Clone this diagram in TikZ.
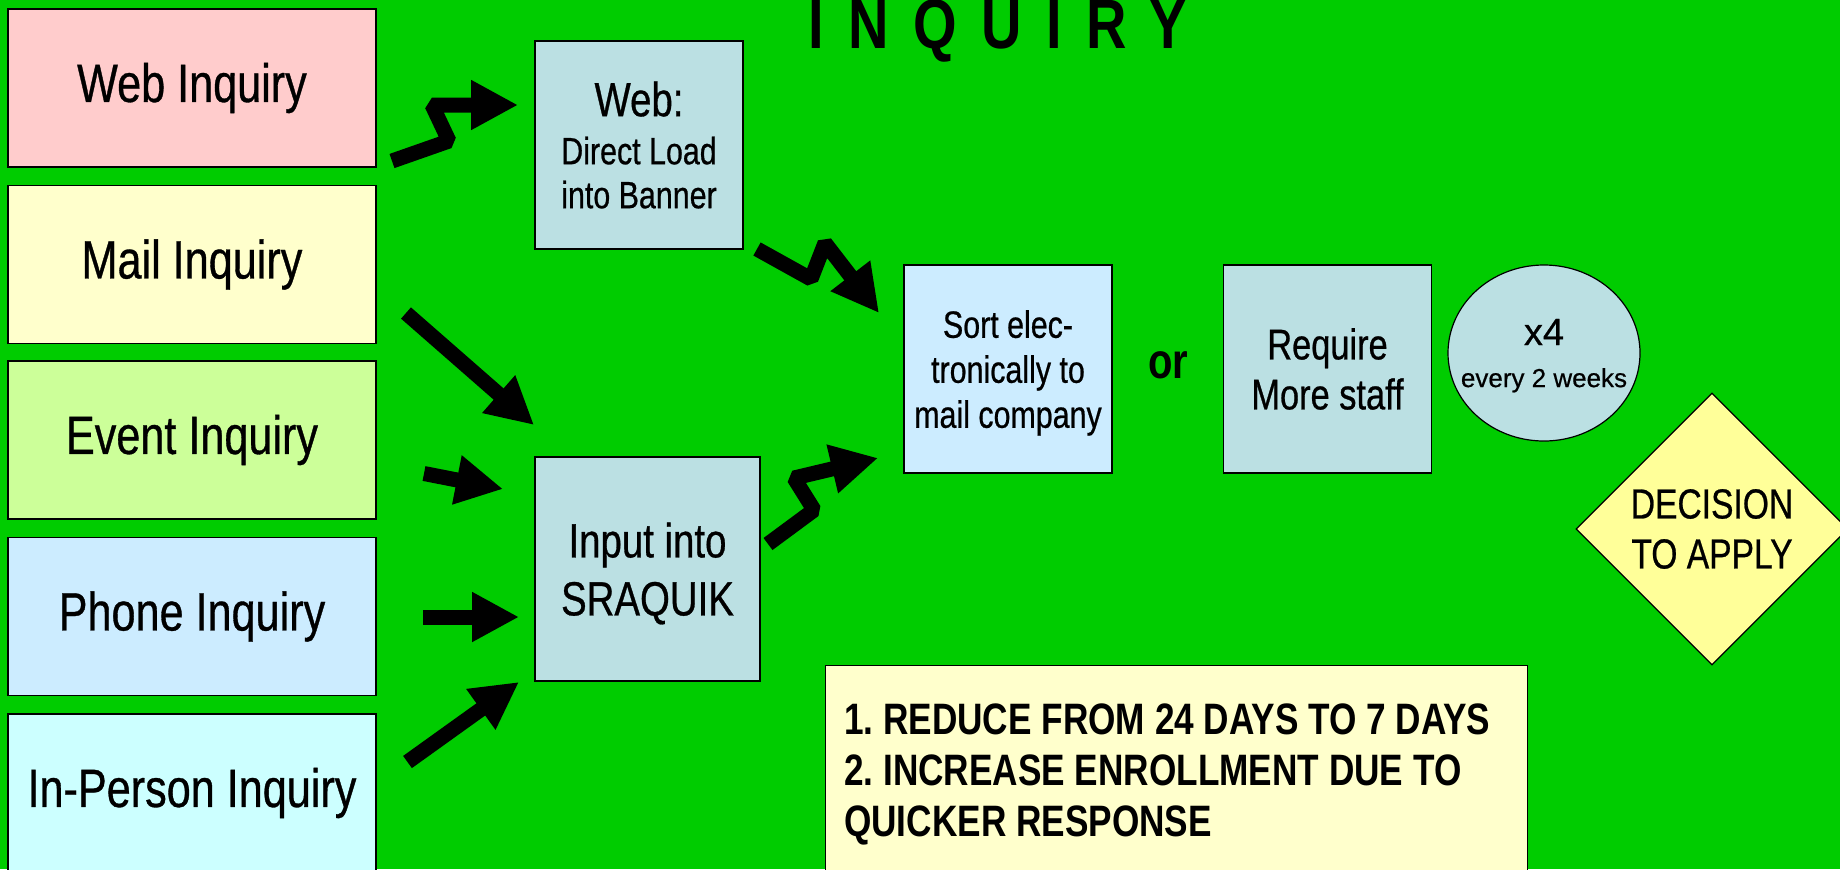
\documentclass[tikz,border=0pt]{standalone}
\usepackage{fontspec}
\setmainfont{Liberation Sans}[FakeStretch=0.8,UprightFeatures={FakeBold=0.6}]
\newfontfamily\widefont{Liberation Sans}[FakeBold=0.6]
\usetikzlibrary{arrows.meta,shapes.geometric}
\definecolor{bg}{HTML}{00CC00}
\definecolor{pk}{HTML}{FFCCCC}
\definecolor{yl}{HTML}{FFFFCC}
\definecolor{lg}{HTML}{CCFF99}
\definecolor{lb}{HTML}{CCECFF}
\definecolor{cy}{HTML}{CCFFFF}
\definecolor{gb}{HTML}{BBE0E3}
\definecolor{dy}{HTML}{FFFF99}

\begin{document}
\begin{tikzpicture}[x=0.5pt,y=-0.5pt,
  inqbox/.style={draw=black,line width=0.85pt,inner sep=0pt,minimum width=184pt,minimum height=79pt,font=\fontsize{27}{30}\selectfont},
  stepbox/.style={draw=black,line width=0.6pt,fill=gb,inner sep=0pt,minimum width=104pt,minimum height=104pt,align=center},
  bigarrow/.style={line width=7.5pt,line join=bevel,-{Triangle[length=23.5pt,width=23.5pt]}}]

\fill[bg] (0,0) rectangle (1840,869);
\useasboundingbox (0,0) rectangle (1840,869);

\node[anchor=base,font=\fontsize{35}{35}\selectfont\bfseries\addfontfeature{LetterSpace=35}] (title) at (998,48) {INQUIRY};

% the five ways in
\foreach \n/\y/\c/\t in {webinq/88/pk/Web Inquiry, mailinq/264.5/yl/Mail Inquiry, eventinq/440/lg/Event Inquiry, phoneinq/616.5/lb/Phone Inquiry, personinq/793/cy/In-Person Inquiry}{
	\node[inqbox,fill=\c] (\n) at (192,\y) {\t};
}

\node[stepbox,font=\fontsize{19}{22}\selectfont] (webload) at (639,145) {{\fontsize{24}{24}\selectfont Web:}\\[2pt] Direct Load\\ into Banner};
\node[stepbox,minimum width=112.5pt,minimum height=112pt,text depth=0pt,font=\fontsize{24}{29}\selectfont] (sraquik) at (647.5,569) {Input into\\ SRAQUIK};
\node[stepbox,fill=lb,text depth=0pt,font=\fontsize{19}{22.5}\selectfont] (sort) at (1008,369) {Sort elec-\\ tronically to\\ mail company};
\node[anchor=base,font=\fontsize{25}{25}\selectfont\bfseries] (or) at (1168,378) {or};
\node[stepbox,font=\fontsize{21.5}{25}\selectfont] (staff) at (1327.5,369) {Require\\ More staff};
\node[ellipse,draw=black,line width=0.6pt,fill=gb,inner sep=0pt,minimum width=96pt,minimum height=88pt,align=center,text depth=0pt,font=\widefont\fontsize{19}{21}\selectfont] (freq) at (1544,353) {x4\\ {\fontsize{13}{13}\selectfont\makebox[0pt]{every 2 weeks}}};
\node[diamond,draw=black,line width=0.6pt,fill=dy,inner sep=0pt,minimum width=136pt,minimum height=136pt,align=center,font=\fontsize{21}{25}\selectfont] (apply) at (1712,529) {DECISION\\ TO APPLY};
\node[draw=black,line width=0.6pt,fill=yl,anchor=north west,inner xsep=9.5pt,inner ysep=19pt,text width=332pt,align=flush left,font=\fontsize{22}{25.5}\selectfont\bfseries\frenchspacing] (goals) at (824.5,665) {1. REDUCE FROM 24 DAYS TO 7 DAYS\\ 2. INCREASE ENROLLMENT DUE TO\\ QUICKER RESPONSE};

% arrow tails and tips
\coordinate (a1) at (392,161);   \coordinate (b1) at (518,105);
\coordinate (a2) at (757,249);   \coordinate (b2) at (879,313);
\coordinate (a3) at (406,313);   \coordinate (b3) at (534,425);
\coordinate (a4) at (424,473.5); \coordinate (b4) at (503,489);
\coordinate (a5) at (423,617);   \coordinate (b5) at (519,617);
\coordinate (a6) at (407.5,762); \coordinate (b6) at (519,682);
\coordinate (a7) at (768,544);   \coordinate (b7) at (878,458);

\draw[bigarrow] (a1) -- (449,141) -- (432,105) -- (b1);% zigzag
\draw[bigarrow] (a2) -- (811,279) -- (825,243) -- (b2);% zigzag
\draw[bigarrow] (a3) -- (b3);
\draw[bigarrow] (a4) -- (b4);
\draw[bigarrow] (a5) -- (b5);
\draw[bigarrow] (a6) -- (b6);
\draw[bigarrow] (a7) -- (814,510) -- (794,478) -- (b7);% zigzag

\end{tikzpicture}
\end{document}
